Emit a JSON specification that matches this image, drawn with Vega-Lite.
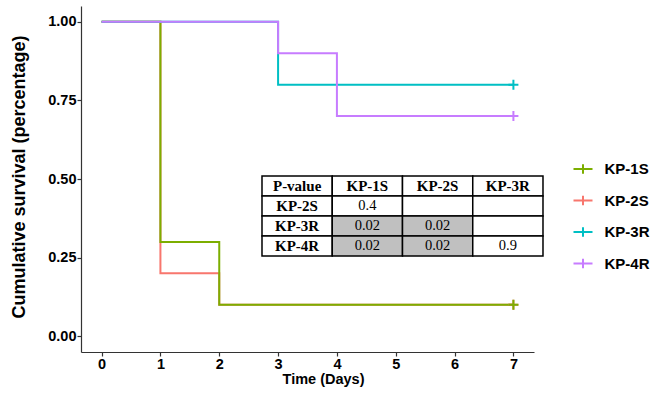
{
  "$schema": "https://vega.github.io/schema/vega-lite/v6.json",
  "width": 453,
  "height": 346,
  "autosize": {"type": "none"},
  "padding": {"left": 81, "top": 6, "right": 116, "bottom": 41},
  "background": "white",
  "config": {"view": {"stroke": null}, "font": "Liberation Sans"},
  "datasets": {
    "curves": [
      {"group": "KP-2S", "time": 0, "surv": 1.0},
      {"group": "KP-2S", "time": 1, "surv": 0.2},
      {"group": "KP-2S", "time": 2, "surv": 0.1},
      {"group": "KP-2S", "time": 7, "surv": 0.1},
      {"group": "KP-1S", "time": 0, "surv": 1.0},
      {"group": "KP-1S", "time": 1, "surv": 0.3},
      {"group": "KP-1S", "time": 2, "surv": 0.1},
      {"group": "KP-1S", "time": 7, "surv": 0.1},
      {"group": "KP-3R", "time": 0, "surv": 1.0},
      {"group": "KP-3R", "time": 3, "surv": 0.8},
      {"group": "KP-3R", "time": 7, "surv": 0.8},
      {"group": "KP-4R", "time": 0, "surv": 1.0},
      {"group": "KP-4R", "time": 3, "surv": 0.9},
      {"group": "KP-4R", "time": 4, "surv": 0.7},
      {"group": "KP-4R", "time": 7, "surv": 0.7}
    ],
    "censor": [
      {"group": "KP-2S", "time": 7, "surv": 0.1},
      {"group": "KP-1S", "time": 7, "surv": 0.1},
      {"group": "KP-3R", "time": 7, "surv": 0.8},
      {"group": "KP-4R", "time": 7, "surv": 0.7}
    ],
    "table": [
      {"row": 0, "col": 0, "label": "P-value", "kind": "head", "p": null},
      {"row": 0, "col": 1, "label": "KP-1S", "kind": "head", "p": null},
      {"row": 0, "col": 2, "label": "KP-2S", "kind": "head", "p": null},
      {"row": 0, "col": 3, "label": "KP-3R", "kind": "head", "p": null},
      {"row": 1, "col": 0, "label": "KP-2S", "kind": "head", "p": null},
      {"row": 1, "col": 1, "label": "0.4", "kind": "value", "p": 0.4},
      {"row": 1, "col": 2, "label": "", "kind": "value", "p": null},
      {"row": 1, "col": 3, "label": "", "kind": "value", "p": null},
      {"row": 2, "col": 0, "label": "KP-3R", "kind": "head", "p": null},
      {"row": 2, "col": 1, "label": "0.02", "kind": "value", "p": 0.02},
      {"row": 2, "col": 2, "label": "0.02", "kind": "value", "p": 0.02},
      {"row": 2, "col": 3, "label": "", "kind": "value", "p": null},
      {"row": 3, "col": 0, "label": "KP-4R", "kind": "head", "p": null},
      {"row": 3, "col": 1, "label": "0.02", "kind": "value", "p": 0.02},
      {"row": 3, "col": 2, "label": "0.02", "kind": "value", "p": 0.02},
      {"row": 3, "col": 3, "label": "0.9", "kind": "value", "p": 0.9}
    ]
  },
  "resolve": {
    "scale": {"x": "independent", "y": "independent"},
    "axis": {"x": "independent", "y": "independent"}
  },
  "layer": [
    {
      "encoding": {
        "x": {
          "field": "time", "type": "quantitative",
          "scale": {"domain": [-0.35, 7.35], "nice": false, "zero": false},
          "axis": {
            "title": "Time (Days)", "values": [0, 1, 2, 3, 4, 5, 6, 7], "format": "d",
            "grid": false, "domainColor": "#333333", "domainWidth": 1.2,
            "tickColor": "#333333", "tickSize": 4, "tickWidth": 1.2,
            "labelFont": "Liberation Sans", "labelFontSize": 14.5, "labelFontWeight": "bold", "labelColor": "black", "labelPadding": 1,
            "titleFont": "Liberation Sans", "titleFontSize": 14.5, "titleFontWeight": "bold", "titleColor": "black", "titlePadding": 2,
            "titleX": 242, "titleAlign": "center"
          }
        },
        "y": {
          "field": "surv", "type": "quantitative",
          "scale": {"domain": [-0.05, 1.05], "nice": false, "zero": false},
          "axis": {
            "title": "Cumulative survival (percentage)", "values": [0, 0.25, 0.5, 0.75, 1], "format": ".2f",
            "grid": false, "domainColor": "#333333", "domainWidth": 1.2,
            "tickColor": "#333333", "tickSize": 4, "tickWidth": 1.2,
            "labelFont": "Liberation Sans", "labelFontSize": 14.5, "labelFontWeight": "bold", "labelColor": "black", "labelPadding": 1,
            "titleFont": "Liberation Sans", "titleFontSize": 18, "titleFontWeight": "bold", "titleColor": "black", "titlePadding": 19,
            "titleY": 170.5, "titleAlign": "center"
          }
        },
        "color": {
          "field": "group", "type": "nominal",
          "scale": {"domain": ["KP-1S", "KP-2S", "KP-3R", "KP-4R"], "range": ["#7CAE00", "#F8766D", "#00BFC4", "#C77CFF"]},
          "legend": {
            "title": null, "orient": "none", "direction": "vertical", "legendX": 491.5, "legendY": 152.5,
            "padding": 0, "symbolType": "M-1,0H1M0,-0.5V0.5", "symbolSize": 361, "symbolStrokeWidth": 2,
            "symbolFillColor": "transparent",
            "labelFont": "Liberation Sans", "labelFontSize": 15, "labelFontWeight": "bold", "labelColor": "black",
            "labelOffset": 11, "rowPadding": 11.5
          }
        }
      },
      "layer": [
        {"data": {"name": "curves"}, "mark": {"type": "line", "interpolate": "step-after", "strokeWidth": 2}},
        {"data": {"name": "censor"}, "mark": {"type": "point", "shape": "M-1,0H1M0,-1V1", "filled": false, "size": 100, "strokeWidth": 2, "opacity": 1}}
      ]
    },
    {
      "data": {"name": "table"},
      "transform": [
        {"calculate": "datum.col + 1", "as": "col2"},
        {"calculate": "datum.row + 1", "as": "row2"},
        {"calculate": "datum.col + 0.5", "as": "cx"},
        {"calculate": "datum.row + 0.5", "as": "cy"}
      ],
      "encoding": {
        "x": {"field": "col", "type": "quantitative", "scale": {"domain": [-2.5765, 3.872], "nice": false, "zero": false}, "axis": null},
        "y": {"field": "row", "type": "quantitative", "scale": {"domain": [-8.5, 8.8], "reverse": true, "nice": false, "zero": false}, "axis": null}
      },
      "layer": [
        {
          "mark": {"type": "rect", "stroke": "black", "strokeWidth": 1.5},
          "encoding": {
            "x2": {"field": "col2"},
            "y2": {"field": "row2"},
            "fill": {"condition": {"test": "datum.p != null && datum.p < 0.05", "value": "#C0C0C0"}, "value": "white"}
          }
        },
        {
          "transform": [{"filter": "datum.kind == 'head'"}],
          "mark": {"type": "text", "font": "Liberation Serif", "fontSize": 15, "fontWeight": "bold", "color": "black", "baseline": "middle", "align": "center"},
          "encoding": {
            "x": {"field": "cx", "type": "quantitative"},
            "y": {"field": "cy", "type": "quantitative"},
            "text": {"field": "label"}
          }
        },
        {
          "transform": [{"filter": "datum.kind == 'value'"}],
          "mark": {"type": "text", "font": "Liberation Serif", "fontSize": 14.5, "color": "black", "baseline": "middle", "align": "center"},
          "encoding": {
            "x": {"field": "cx", "type": "quantitative"},
            "y": {"field": "cy", "type": "quantitative"},
            "text": {"field": "label"}
          }
        }
      ]
    }
  ]
}
